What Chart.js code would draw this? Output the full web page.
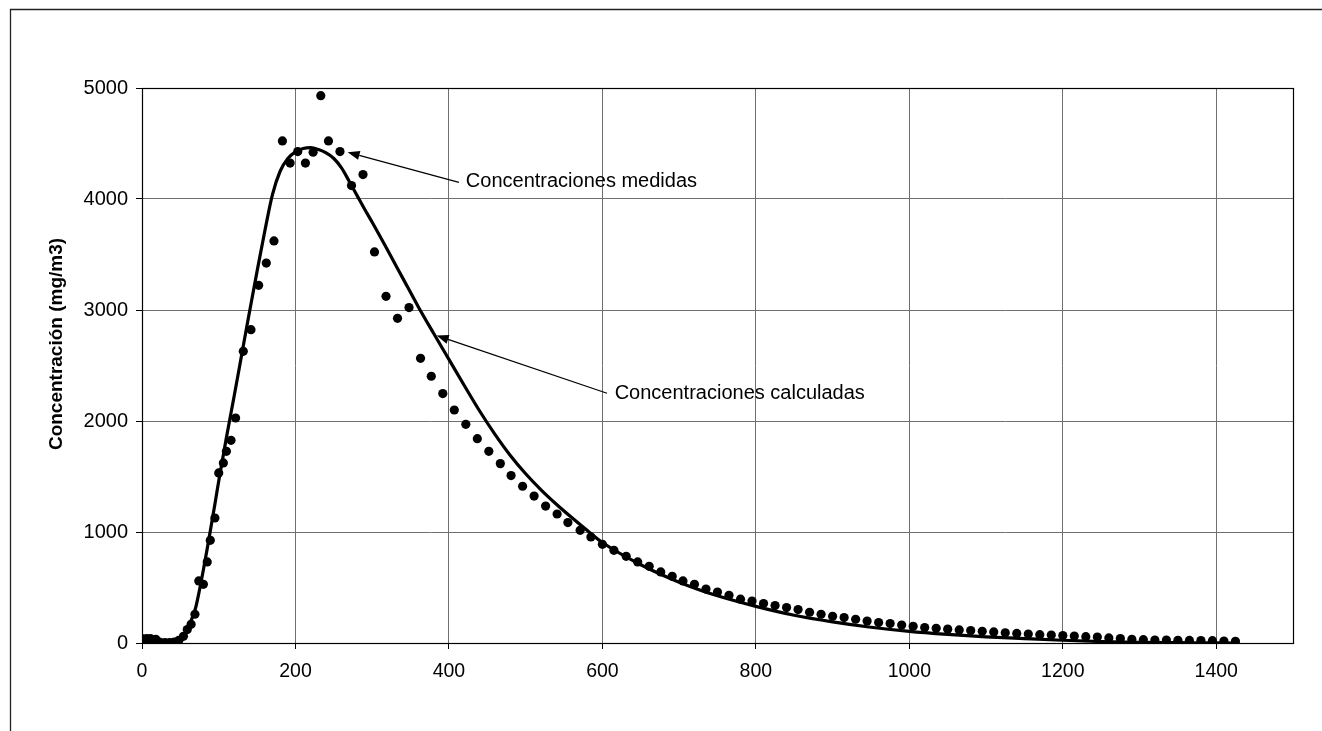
<!DOCTYPE html>
<html>
<head>
<meta charset="utf-8">
<script src="https://cdn.jsdelivr.net/npm/chart.js@4.4.1/dist/chart.umd.min.js"></script>
<style>
  html, body { margin: 0; padding: 0; background: #fff; overflow: hidden; }
  canvas { display: block; }
</style>
</head>
<body>
<canvas id="chart" width="1322" height="731"></canvas>
<script>
// Measured concentrations (mg/m3) against time
const measuredTime = [
  0, 6, 11, 18, 23, 30, 36, 42, 48, 54,
  59, 64, 69, 74, 80, 85, 89, 95, 100, 106,
  110, 116, 122, 132, 142, 152, 162, 172, 183, 193,
  203, 213, 223, 233, 243, 258, 273, 288, 303, 318,
  333, 348, 363, 377, 392, 407, 422, 437, 452, 467,
  481, 496, 511, 526, 541, 555, 571, 585, 600, 615,
  631, 646, 661, 676, 691, 705, 720, 735, 750, 765,
  780, 795, 810, 825, 840, 855, 870, 885, 900, 915,
  930, 945, 960, 975, 990, 1005, 1020, 1035, 1050, 1065,
  1080, 1095, 1110, 1125, 1140, 1155, 1170, 1185, 1200, 1215,
  1230, 1245, 1260, 1275, 1290, 1305, 1320, 1335, 1350, 1365,
  1380, 1395, 1410, 1425
];
const measuredConc = [
  40, 40, 40, 33, 9, 4, 4, 9, 24, 60,
  121, 168, 259, 559, 529, 730, 925, 1126, 1532, 1622,
  1727, 1826, 2027, 2628, 2823, 3222, 3423, 3622, 4523, 4324,
  4427, 4324, 4421, 4931, 4523, 4427, 4121, 4220, 3523, 3123,
  2925, 3022, 2565, 2403, 2247, 2099, 1970, 1841, 1727, 1616,
  1508, 1412, 1324, 1234, 1162, 1085, 1015, 955, 889, 835,
  781, 730, 691, 640, 601, 559, 529, 486, 459, 430,
  395, 378, 355, 337, 319, 301, 277, 259, 241, 229,
  214, 198, 184, 175, 162, 150, 139, 132, 125, 118,
  112, 106, 100, 92, 86, 80, 75, 71, 67, 62,
  57, 53, 46, 40, 34, 30, 27, 26, 24, 23,
  22, 21, 18, 15
];

// Calculated (model) concentrations
const calcTime = [
  0, 20, 40, 50, 55, 60, 65, 70, 75, 80,
  85, 90, 95, 100, 110, 120, 130, 140, 150, 160,
  170, 180, 190, 200, 210, 220, 230, 240, 250, 260,
  270, 280, 290, 300, 320, 340, 360, 380, 400, 420,
  440, 460, 480, 500, 520, 540, 560, 580, 600, 650,
  700, 750, 800, 850, 900, 950, 1000, 1050, 1100, 1150,
  1200, 1250, 1300, 1350, 1400, 1425
];
const calcConc = [
  0, 0, 5, 40, 75, 140, 220, 320, 480, 660,
  850, 1050, 1250, 1460, 1850, 2220, 2600, 2980, 3350, 3710,
  4040, 4250, 4365, 4425, 4455, 4462, 4445, 4415, 4365, 4280,
  4160, 4035, 3910, 3790, 3540, 3285, 3030, 2790, 2555, 2320,
  2090, 1880, 1690, 1525, 1380, 1250, 1130, 1015, 905, 705,
  548, 425, 330, 250, 190, 142, 105, 78, 56, 40,
  25, 13, 6, 3, 1, 0
];

const xTickValues = [0, 200, 400, 600, 800, 1000, 1200, 1400];
const yTickValues = [0, 1000, 2000, 3000, 4000, 5000];
const yAxisTitle = 'Concentración (mg/m3)';

const labelNotes = [
  { text: 'Concentraciones medidas',    tip: [268, 4422], tail: [413, 4150], at: [422, 4160] },
  { text: 'Concentraciones calculadas', tip: [384, 2770], tail: [606, 2250], at: [616, 2250] }
];

const FONT = '"Liberation Sans", Arial, Helvetica, sans-serif';

// Outer frame, plot box, rotated axis title and the labelled arrows
const decorations = {
  id: 'decorations',
  beforeDraw(chart) {
    const ctx = chart.ctx;
    ctx.save();
    ctx.strokeStyle = '#222';
    ctx.lineWidth = 1.3;
    ctx.beginPath();
    ctx.moveTo(10.5, chart.height);
    ctx.lineTo(10.5, 9.5);
    ctx.lineTo(chart.width, 9.5);
    ctx.stroke();
    ctx.restore();
  },
  afterDatasetsDraw(chart) {
    const ctx = chart.ctx;
    const a = chart.chartArea;
    const xs = chart.scales.x, ys = chart.scales.y;
    ctx.save();
    ctx.strokeStyle = '#000';
    ctx.lineWidth = 1.2;
    ctx.strokeRect(Math.round(a.left) + 0.5, Math.round(a.top) + 0.5,
                   Math.round(a.right - a.left), Math.round(a.bottom - a.top));

    // y axis title
    ctx.fillStyle = '#000';
    ctx.font = 'bold 19px ' + FONT;
    ctx.textAlign = 'center';
    ctx.textBaseline = 'middle';
    ctx.translate(57, 344);
    ctx.rotate(-Math.PI / 2);
    ctx.fillText(yAxisTitle, 0, 0);
    ctx.restore();

    // annotations
    ctx.save();
    labelNotes.forEach(n => {
      const tx = xs.getPixelForValue(n.tip[0]), ty = ys.getPixelForValue(n.tip[1]);
      const bx = xs.getPixelForValue(n.tail[0]), by = ys.getPixelForValue(n.tail[1]);
      const ang = Math.atan2(by - ty, bx - tx);
      const headLen = 12, headHalf = 4.5;
      const hx = tx + Math.cos(ang) * headLen, hy = ty + Math.sin(ang) * headLen;
      ctx.strokeStyle = '#000';
      ctx.lineWidth = 1.2;
      ctx.beginPath();
      ctx.moveTo(bx, by);
      ctx.lineTo(hx, hy);
      ctx.stroke();
      ctx.fillStyle = '#000';
      ctx.beginPath();
      ctx.moveTo(tx, ty);
      ctx.lineTo(hx + Math.sin(ang) * headHalf, hy - Math.cos(ang) * headHalf);
      ctx.lineTo(hx - Math.sin(ang) * headHalf, hy + Math.cos(ang) * headHalf);
      ctx.closePath();
      ctx.fill();
      ctx.font = '20px ' + FONT;
      ctx.textAlign = 'left';
      ctx.textBaseline = 'middle';
      ctx.fillText(n.text, xs.getPixelForValue(n.at[0]), ys.getPixelForValue(n.at[1]));
    });
    ctx.restore();
  }
};

const measuredPoints = measuredTime.map((t, i) => ({ x: t, y: measuredConc[i] }));
const calcPoints = calcTime.map((t, i) => ({ x: t, y: calcConc[i] }));
const plainNumber = v => String(v);

new Chart(document.getElementById('chart'), {
  type: 'scatter',
  data: {
    datasets: [
      {
        label: 'Concentraciones calculadas',
        data: calcPoints,
        showLine: true,
        borderColor: '#000',
        borderWidth: 3.2,
        pointRadius: 0,
        cubicInterpolationMode: 'monotone',
        order: 2
      },
      {
        label: 'Concentraciones medidas',
        data: measuredPoints,
        showLine: false,
        backgroundColor: '#000',
        borderColor: '#000',
        borderWidth: 0,
        pointRadius: 4.6,
        order: 1
      }
    ]
  },
  options: {
    responsive: false,
    animation: false,
    devicePixelRatio: 1,
    layout: { padding: { left: 0, top: 88, right: 29, bottom: 38 } },
    plugins: { legend: { display: false }, tooltip: { enabled: false } },
    scales: {
      x: {
        type: 'linear',
        min: 0,
        max: 1500,
        afterBuildTicks(scale) { scale.ticks = xTickValues.map(v => ({ value: v })); },
        afterFit(scale) { scale.height = 50; },
        grid: { color: '#6f6f6f', lineWidth: 1, tickColor: '#000', tickLength: 6 },
        border: { display: true, color: '#000', width: 1 },
        ticks: { color: '#000', padding: 11, maxRotation: 0, callback: plainNumber, font: { family: FONT, size: 19.5 } }
      },
      y: {
        type: 'linear',
        min: 0,
        max: 5000,
        afterBuildTicks(scale) { scale.ticks = yTickValues.map(v => ({ value: v })); },
        afterFit(scale) { scale.width = 142; },
        grid: { color: '#6f6f6f', lineWidth: 1, tickColor: '#000', tickLength: 6 },
        border: { display: true, color: '#000', width: 1 },
        ticks: { color: '#000', padding: 8, callback: plainNumber, font: { family: FONT, size: 20 } }
      }
    }
  },
  plugins: [decorations]
});
</script>
</body>
</html>
